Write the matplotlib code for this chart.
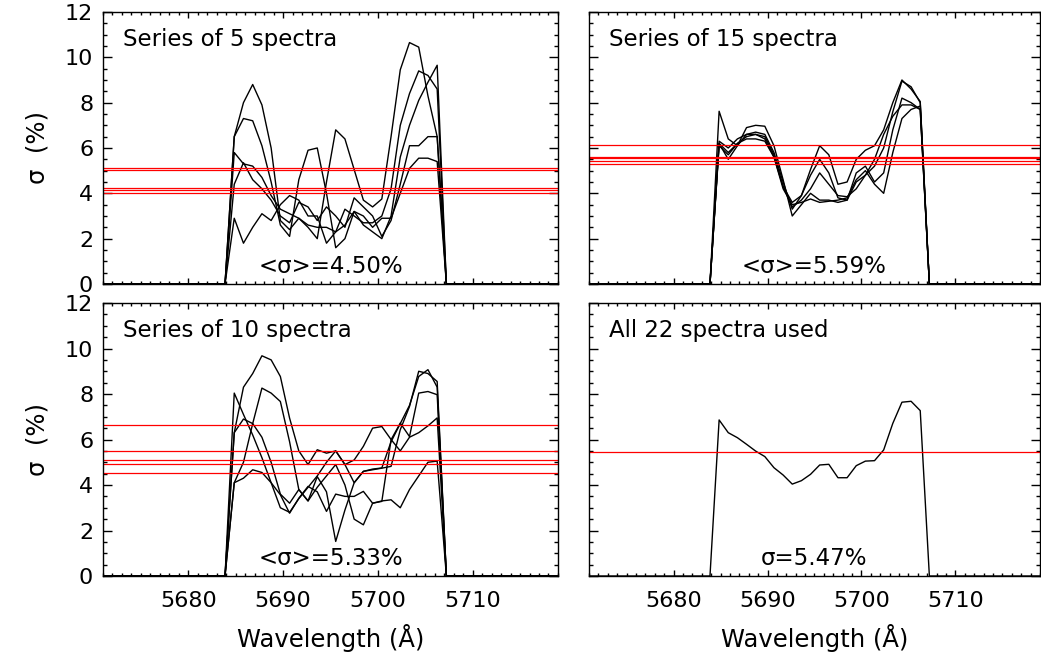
import matplotlib
matplotlib.use("Agg")
import matplotlib.pyplot as plt
import numpy as np
from matplotlib.ticker import MultipleLocator

plt.rcParams["font.family"] = ["DejaVu Sans"]

# wavelength grid of the sigma curves (Angstrom)
wave_start = 5684.85
wave_step = 0.973
n_pix = 23
x_range = (5671.0, 5719.0)

# sigma (%) per pixel, one row per series
series5 = [
    [6.5, 8.0, 8.8, 7.9, 6.0, 2.8, 2.4, 2.9, 2.5, 2.0, 4.5, 6.8, 6.4, 5.05, 3.7, 3.4, 3.75, 6.5, 9.45, 10.65, 10.45, 8.3, 6.5],
    [6.5, 7.3, 7.2, 6.1, 4.5, 2.6, 2.1, 4.6, 5.9, 6.0, 4.0, 1.6, 2.0, 3.2, 2.6, 2.3, 2.0, 3.0, 5.6, 7.0, 8.1, 8.9, 9.65],
    [5.8, 5.3, 5.2, 4.7, 3.9, 3.3, 3.1, 2.9, 2.6, 2.5, 2.5, 2.3, 3.3, 3.0, 2.7, 2.7, 3.0, 4.2, 7.0, 8.4, 9.4, 9.2, 8.6],
    [4.4, 5.35, 4.6, 4.2, 3.7, 3.0, 2.7, 3.6, 3.4, 2.8, 3.4, 3.0, 2.5, 3.8, 3.4, 3.0, 2.1, 2.8, 4.4, 6.1, 6.1, 6.5, 6.5],
    [2.9, 1.8, 2.5, 3.1, 2.8, 3.5, 3.9, 3.7, 3.0, 3.0, 1.8, 2.3, 2.6, 3.2, 3.0, 2.5, 2.9, 2.9, 4.0, 5.1, 5.55, 5.55, 5.4],
]
series15 = [
    [7.62, 6.4, 6.1, 6.6, 6.6, 6.5, 5.7, 4.3, 3.4, 3.7, 4.2, 4.9, 4.4, 3.9, 3.85, 4.2, 4.8, 5.2, 6.0, 7.6, 8.95, 8.7, 8.0],
    [6.3, 6.0, 6.4, 6.6, 6.7, 6.6, 5.8, 4.5, 3.3, 3.9, 5.05, 6.1, 5.7, 4.4, 4.5, 5.5, 5.9, 6.1, 6.8, 8.0, 9.0, 8.6, 8.05],
    [6.2, 5.8, 6.2, 6.5, 6.6, 6.4, 5.6, 4.3, 3.6, 3.9, 4.8, 5.5, 4.9, 3.8, 3.7, 4.5, 4.8, 5.5, 6.6, 7.4, 7.9, 7.9, 7.7],
    [6.1, 5.7, 6.2, 6.4, 6.4, 6.3, 5.6, 4.2, 3.5, 3.6, 3.75, 3.6, 3.65, 3.7, 3.8, 4.6, 5.0, 4.4, 4.0, 5.8, 7.3, 7.7, 7.85],
    [6.2, 5.5, 6.1, 6.9, 7.0, 6.96, 6.1, 4.6, 3.0, 3.5, 4.0, 3.7, 3.7, 3.6, 3.7, 4.9, 5.2, 4.5, 4.9, 6.8, 8.2, 8.0, 7.7],
]
series10 = [
    [6.3, 8.3, 8.9, 9.68, 9.5, 8.77, 6.94, 5.5, 4.9, 5.55, 5.4, 5.5, 4.9, 5.1, 5.7, 6.5, 6.57, 6.0, 5.5, 6.1, 6.3, 6.6, 6.95],
    [4.1, 5.0, 6.7, 8.26, 8.04, 7.67, 5.9, 3.8, 3.3, 3.9, 4.4, 4.9, 4.0, 2.5, 2.25, 3.2, 3.3, 3.35, 3.0, 3.8, 4.4, 5.0, 5.05],
    [8.04, 7.1, 6.2, 5.2, 4.1, 3.0, 2.8, 3.4, 3.9, 4.4, 5.0, 5.5, 4.9, 4.1, 4.6, 4.7, 4.75, 5.9, 6.7, 7.5, 8.77, 9.07, 8.3],
    [6.3, 6.9, 6.7, 6.1, 5.0, 3.6, 3.2, 3.8, 3.3, 4.37, 3.7, 1.52, 2.9, 4.1, 4.6, 4.67, 4.74, 4.82, 6.43, 7.45, 9.0, 8.9, 8.55],
    [4.1, 4.3, 4.67, 4.55, 4.1, 3.57, 2.76, 3.42, 3.94, 3.7, 2.84, 3.6, 3.5, 3.5, 3.72, 3.2, 3.28, 5.99, 6.72, 6.13, 8.04, 8.11, 7.97],
]
all22 = [
    [6.86, 6.30, 6.08, 5.79, 5.49, 5.25, 4.76, 4.44, 4.04, 4.19, 4.47, 4.88, 4.91, 4.32, 4.32, 4.85, 5.05, 5.07, 5.54, 6.71, 7.64, 7.68, 7.27],
]

# mean sigma of each series (red levels)
levels5 = [5.10, 5.02, 4.22, 4.15, 4.01]
levels15 = [6.11, 5.60, 5.55, 5.42, 5.30]
levels10 = [6.62, 5.50, 5.10, 4.92, 4.51]
levels22 = [5.47]

titles = ["Series of 5 spectra", "Series of 15 spectra",
          "Series of 10 spectra", "All 22 spectra used"]
notes = ["<σ>=4.50%", "<σ>=5.59%", "<σ>=5.33%", "σ=5.47%"]

FS_TICK = 16
FS_TEXT = 16.5
FS_LABEL = 17.5

wave = wave_start + wave_step * np.arange(n_pix)
# curves drop to zero outside the usable pixels
x_full = np.concatenate([[x_range[0], wave[0] - wave_step], wave,
                         [wave[-1] + wave_step, x_range[1]]])


def draw_panel(ax, curves, levels, title, note, bottom, left):
    for c in curves:
        y_full = np.concatenate([[0, 0], c, [0, 0]])
        ax.plot(x_full, y_full, color="black", lw=1.0)
    for lv in levels:
        ax.axhline(lv, color="red", lw=0.9)

    ax.set_xlim(*x_range)
    ax.set_ylim(0, 12)
    ax.xaxis.set_major_locator(MultipleLocator(10))
    ax.xaxis.set_minor_locator(MultipleLocator(1))
    ax.yaxis.set_major_locator(MultipleLocator(2))
    ax.yaxis.set_minor_locator(MultipleLocator(0.5))
    ax.tick_params(which="both", direction="in", top=True, right=True,
                   labelsize=FS_TICK, width=1.0)
    ax.tick_params(axis="x", which="major", length=4.5, pad=11)
    ax.tick_params(axis="x", which="minor", length=2.5)
    ax.tick_params(axis="y", which="major", length=6.5, pad=7)
    ax.tick_params(axis="y", which="minor", length=3.2)
    for sp in ax.spines.values():
        sp.set_linewidth(1.0)

    if bottom:
        ax.set_xlabel("Wavelength (Å)", fontsize=FS_LABEL, labelpad=9)
    else:
        ax.tick_params(axis="x", labelbottom=False)
    if left:
        ax.set_ylabel("σ  (%)", fontsize=FS_LABEL, labelpad=11)
    else:
        ax.tick_params(axis="y", labelleft=False)

    ax.text(0.044, 0.9, title, transform=ax.transAxes, fontsize=FS_TEXT,
            ha="left", va="center")
    ax.text(0.5, 0.065, note, transform=ax.transAxes, fontsize=FS_TEXT,
            ha="center", va="center")


fig = plt.figure(figsize=(10.41, 6.58), dpi=100)
ax_tl = fig.add_axes([0.0989, 0.5684, 0.4371, 0.4134])
ax_tr = fig.add_axes([0.5658, 0.5684, 0.4332, 0.4134])
ax_bl = fig.add_axes([0.0989, 0.1246, 0.4371, 0.4149])
ax_br = fig.add_axes([0.5658, 0.1246, 0.4332, 0.4149])

draw_panel(ax_tl, series5, levels5, titles[0], notes[0], False, True)
draw_panel(ax_tr, series15, levels15, titles[1], notes[1], False, False)
draw_panel(ax_bl, series10, levels10, titles[2], notes[2], True, True)
draw_panel(ax_br, all22, levels22, titles[3], notes[3], True, False)

# the top label sits just under the axis end
for ax in (ax_tl, ax_bl):
    fig.canvas.draw()
    ax.get_yticklabels()[-1].set_va("top")

fig.savefig("out.png", dpi=100)
